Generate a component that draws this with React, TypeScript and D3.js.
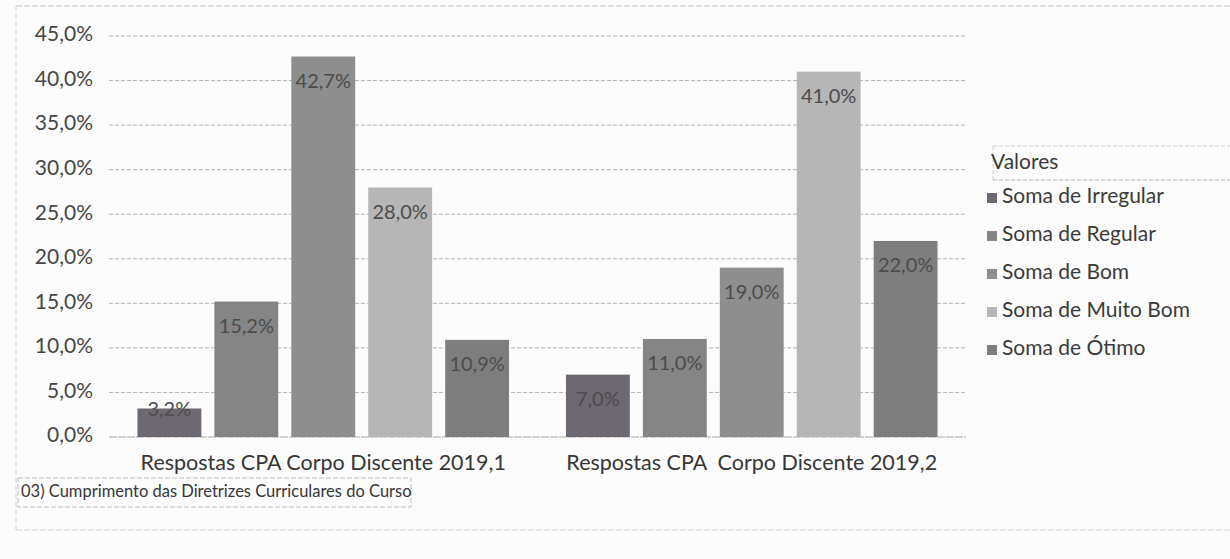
import React from 'react';
import * as d3 from 'd3';

const categories = ['Respostas CPA Corpo Discente 2019,1', 'Respostas CPA  Corpo Discente 2019,2'];
const seriesNames = ['Soma de Irregular', 'Soma de Regular', 'Soma de Bom', 'Soma de Muito Bom', 'Soma de Ótimo'];
const irregular = [3.2, 7.0];
const regular = [15.2, 11.0];
const bom = [42.7, 19.0];
const muitoBom = [28.0, 41.0];
const otimo = [10.9, 22.0];
const yTicks = [0, 5, 10, 15, 20, 25, 30, 35, 40, 45];
const seriesColors = ['#6d6872', '#858585', '#8e8e8e', '#b6b6b6', '#7e7e7e'];
const legendTitle = 'Valores';
const footerLabel = '03) Cumprimento das Diretrizes Curriculares do Curso';

const seriesValues = [irregular, regular, bom, muitoBom, otimo];

const W = 1230;
const H = 559;
const FONT = 'Lato, "Open Sans", sans-serif';

const locale = d3.formatLocale({ decimal: ',', thousands: '.', grouping: [3], currency: ['R$', ''] });
const fmt = (v: number) => locale.format('.1f')(v) + '%';

export default function App() {
  const y = d3.scaleLinear().domain([0, 45]).range([437, 36]);
  const x0 = d3.scaleBand<string>().domain(categories).range([109, 966]).paddingInner(0).paddingOuter(0);
  const x1 = d3
    .scaleBand<string>()
    .domain(seriesNames)
    .range([0, x0.bandwidth()])
    .paddingInner(0.17)
    .paddingOuter(0.37);
  const [xMin, xMax] = x0.range();

  const legendY = d3.scalePoint<string>().domain(seriesNames).range([198, 350]);

  return (
    <div style={{ position: 'absolute', left: 0, top: 0 }}>
      <svg width={W} height={H} style={{ display: 'block', background: '#fcfcfc' }}>
        {/* outer frame */}
        <line x1={16} x2={W} y1={6} y2={6} stroke="#c0c0c0" strokeWidth={1} strokeDasharray="6 2" />
        <line x1={16} x2={16} y1={6} y2={530} stroke="#d0d0d0" strokeWidth={1} strokeDasharray="5 3" />
        <line x1={16} x2={W} y1={530} y2={530} stroke="#d6d6d6" strokeWidth={1} strokeDasharray="6 2" />

        {/* gridlines */}
        {yTicks.map((t) => (
          <line
            key={'g' + t}
            x1={xMin}
            x2={xMax}
            y1={y(t)}
            y2={y(t)}
            stroke={t === 0 ? '#a8a8a8' : '#b4b4b4'}
            strokeWidth={1}
            strokeDasharray={t === 0 ? '8 1' : '4 2'}
          />
        ))}
        {/* y tick labels */}
        {yTicks.map((t) => (
          <text
            key={'t' + t}
            x={93}
            y={y(t)}
            textAnchor="end"
            dominantBaseline="middle"
            fontFamily={FONT}
            fontSize={21}
            fill="#464646"
          >
            {fmt(t)}
          </text>
        ))}

        {/* bars */}
        {categories.map((c, ci) => (
          <g key={c} transform={`translate(${x0(c)},0)`}>
            {seriesNames.map((s, si) => {
              const v = seriesValues[si][ci];
              const top = y(v);
              const h = y(0) - top;
              const off = Math.min(26, h - 26);
              return (
                <g key={s}>
                  <rect x={x1(s)} y={top} width={x1.bandwidth()} height={h} fill={seriesColors[si]} />
                  <text
                    x={(x1(s) as number) + x1.bandwidth() / 2}
                    y={top + off}
                    textAnchor="middle"
                    dominantBaseline="middle"
                    fontFamily={FONT}
                    fontSize={20}
                    fill="#4c4c4c"
                  >
                    {fmt(v)}
                  </text>
                </g>
              );
            })}
            <text
              x={x0.bandwidth() / 2}
              y={465}
              textAnchor="middle"
              dominantBaseline="middle"
              fontFamily={FONT}
              fontSize={21.5}
              fill="#363636"
              style={{ whiteSpace: 'pre' }}
            >
              {c}
            </text>
          </g>
        ))}

        {/* legend */}
        <line x1={993} x2={W} y1={146} y2={146} stroke="#cfcfcf" strokeDasharray="4 2" />
        <line x1={993} x2={993} y1={146} y2={180} stroke="#cfcfcf" strokeDasharray="4 2" />
        <line x1={993} x2={W} y1={180} y2={180} stroke="#b8b8b8" strokeDasharray="4 2" />
        <text x={991} y={164} dominantBaseline="middle" fontFamily={FONT} fontSize={21} fill="#3a3a3a">
          {legendTitle}
        </text>
        {seriesNames.map((s, si) => (
          <g key={'l' + s} transform={`translate(0,${legendY(s)})`}>
            <rect x={987} y={-5} width={10} height={10} fill={seriesColors[si]} />
            <text x={1002} y={0} dominantBaseline="middle" fontFamily={FONT} fontSize={21} fill="#3a3a3a">
              {s}
            </text>
          </g>
        ))}

        {/* footer field box */}
        <rect x={18} y={478} width={393} height={29} fill="none" stroke="#bdbdbd" strokeDasharray="5 2" />
        <text x={21} y={493} dominantBaseline="middle" fontFamily={FONT} fontSize={16.5} fill="#363636">
          {footerLabel}
        </text>
      </svg>
    </div>
  );
}
